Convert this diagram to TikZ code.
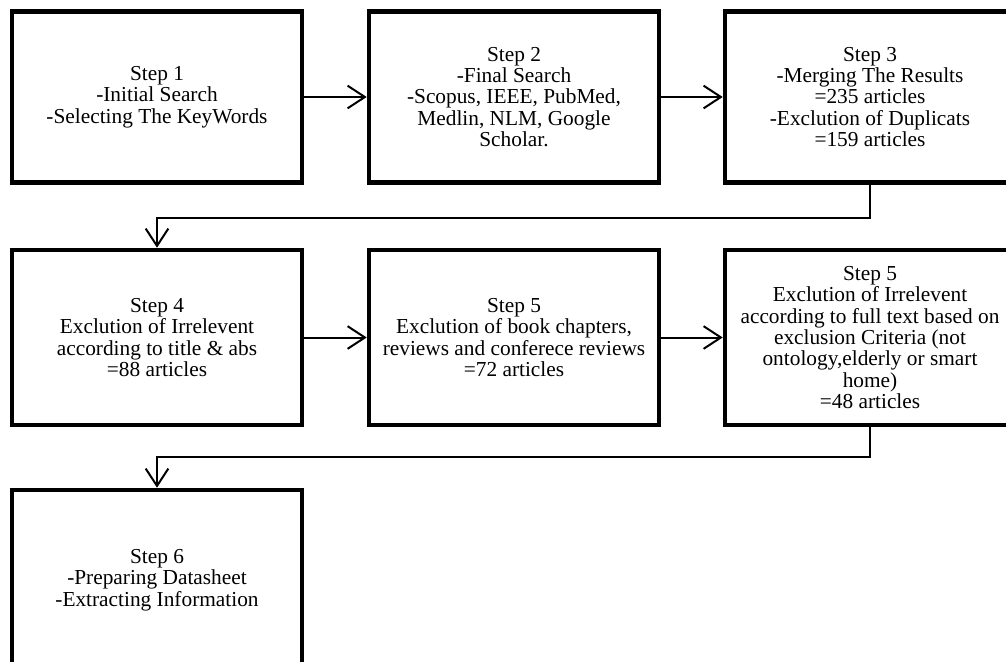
\documentclass[tikz,border=0pt]{standalone}
\usepackage{fontspec}
\setmainfont{Liberation Serif}
\usetikzlibrary{arrows.meta}
\begin{document}
\begin{tikzpicture}[x=0.75pt,y=-0.75pt,
  stepbox/.style={draw, line width=3.4pt, minimum width=217.5pt, align=center,
    font=\fontsize{16}{16}\selectfont, inner sep=0pt},
  rowone/.style={minimum height=128.25pt},
  rowtwo/.style={minimum height=131.25pt},
  conn/.style={line width=1.5pt, -{Straight Barb[length=13pt,width=17pt]}}]
\useasboundingbox (0,0) rectangle (1006,661);
\clip (0,0) rectangle (1006,661);
\node[stepbox,rowone] (b1) at (157,97) {Step 1\\-Initial Search\\-Selecting The KeyWords};
\node[stepbox,rowone] (b2) at (514,97) {Step 2\\-Final Search\\-Scopus, IEEE, PubMed,\\Medlin, NLM, Google\\Scholar.};
\node[stepbox,rowone] (b3) at (870,97) {Step 3\\-Merging The Results\\=235 articles\\-Exclution of Duplicats\\=159 articles};
\node[stepbox,rowtwo] (b4) at (157,337.5) {Step 4\\Exclution of Irrelevent\\according to title \& abs\\=88 articles};
\node[stepbox,rowtwo] (b5) at (514,337.5) {Step 5\\Exclution of book chapters,\\reviews and conferece reviews\\=72 articles};
\node[stepbox,rowtwo] (b6) at (870,337.5) {Step 5\\Exclution of Irrelevent\\according to full text based on\\exclusion Criteria (not\\ontology,elderly or smart\\home)\\=48 articles};
\node[stepbox,minimum height=135pt] (b7) at (157,580) {Step 6\\-Preparing Datasheet\\-Extracting Information};
\draw[conn] (b1) -- (b2);
\draw[conn] (b2) -- (b3);
\draw[conn] (b4) -- (b5);
\draw[conn] (b5) -- (b6);
\draw[conn] (b3.south) -- ++(0,33) -| (b4.north);
\draw[conn] (b6.south) -- ++(0,30) -| (b7.north);
\end{tikzpicture}
\end{document}
